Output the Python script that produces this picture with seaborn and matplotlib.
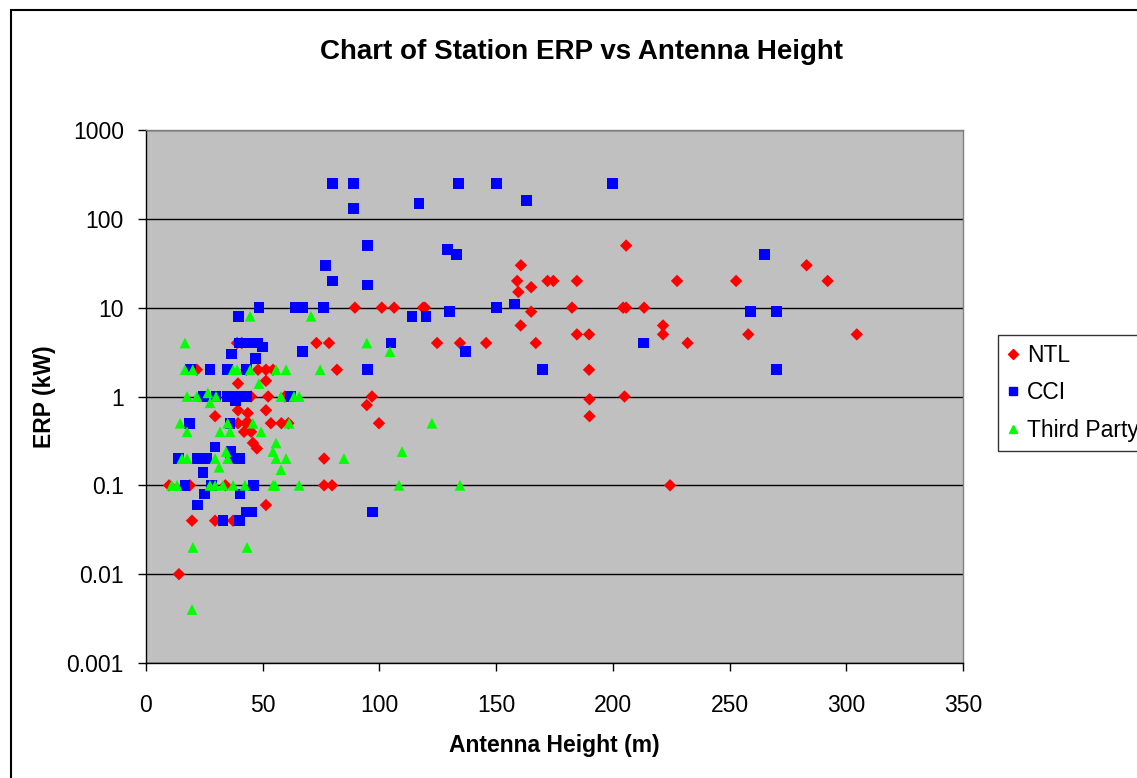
import pandas as pd
import matplotlib
matplotlib.use("Agg")
import matplotlib.pyplot as plt
import seaborn as sns
from matplotlib.patches import Rectangle
from matplotlib.ticker import FixedLocator, FixedFormatter, NullLocator

# NTL stations: antenna height (m) and ERP (kW)
ntl_height = [205.7, 283, 160.6, 159, 172, 174.5, 184.6, 227.5, 252.8, 292, 159.5, 165,
              182.5, 204.4, 205.7, 213.4, 165, 160.5, 221.5, 184.6, 189.8, 221.5, 258, 304.5,
              167, 232, 189.8, 190, 205, 190, 224.5,
              89.5, 101, 106.3, 118.7, 119.5, 73, 78.4, 124.7, 134.5, 145.7, 81.8, 96.8,
              94.6, 99.8, 76.3, 76.3, 79.7, 58, 61, 59.5,
              39, 41, 21.8, 43, 48, 51.4, 54.4, 39.4, 51.4, 45, 52.3, 39.4, 43.6, 51.4, 29.6,
              39.4, 42.8, 44, 53.5, 42, 45, 45.8, 47.5, 9.9, 18.8, 34, 51.4, 19.7, 29.6, 37.3,
              14.1]
ntl_erp = [50, 30, 30, 20, 20, 20, 20, 20, 20, 20, 15, 17,
           10, 10, 10, 10, 9, 6.3, 6.3, 5, 5, 5, 5, 5,
           4, 4, 2, 0.93, 1, 0.6, 0.1,
           10, 10, 10, 10, 10, 4, 4, 4, 4, 4, 2, 1,
           0.8, 0.5, 0.2, 0.1, 0.1, 0.5, 0.5, 1,
           4, 4, 2, 2, 2, 2, 2, 1.4, 1.5, 1, 1, 0.7, 0.65, 0.7, 0.6,
           0.5, 0.5, 0.5, 0.5, 0.4, 0.4, 0.3, 0.26, 0.1, 0.1, 0.1, 0.06, 0.04, 0.04, 0.04,
           0.01]

# CCI stations
cci_height = [80, 89, 134, 150, 200, 89, 117, 163, 95, 129, 133, 265, 77, 80, 95, 158,
              150, 105, 114, 120, 130, 259, 270, 213, 137, 67, 64, 67, 76, 48.4, 39.5,
              170, 270, 95, 97,
              40, 42, 44, 46, 48, 50, 36.5, 47, 19, 27.4, 35, 43, 24.5, 30, 34.7, 39, 41.5,
              43, 62, 38.5, 18.6, 36, 29.6, 36.4, 14, 22, 26, 36, 40, 24.4, 16.7, 28, 46,
              25, 40.3, 22, 43, 45.4, 33, 40]
cci_erp = [250, 250, 250, 250, 250, 130, 150, 160, 50, 45, 40, 40, 30, 20, 18, 11,
           10, 4, 8, 8, 9, 9, 9, 4, 3.2, 3.2, 10, 10, 10, 10, 8,
           2, 2, 2, 0.05,
           4, 4, 4, 4, 4, 3.6, 3, 2.7, 2, 2, 2, 2, 1, 1, 1, 1, 1,
           1, 1, 0.9, 0.5, 0.5, 0.27, 0.24, 0.2, 0.2, 0.2, 0.2, 0.2, 0.14, 0.1, 0.1, 0.1,
           0.08, 0.08, 0.06, 0.05, 0.05, 0.04, 0.04]

# Third party stations
tp_height = [16.7, 44.6, 70.7, 74.6, 16.7, 20, 37.3, 39, 44.6, 55.7, 60, 48.4, 17.6, 21.8,
             30, 57.8, 63.4, 65.6, 26.5, 27.4, 14.6, 35, 45.8, 61.3, 17.6, 31.7, 36, 49.3,
             55.7, 34.3, 54.4, 15.4, 17.6, 29.6, 35, 55.7, 60, 31.3, 57.8, 11, 13.3, 27.4,
             29.6, 33, 37.3, 42.4, 54.4, 55.3, 65.6, 20.1, 43.3, 19.7, 122.5, 84.8, 109.7,
             108.4, 134.5, 104.5, 94.6]
tp_erp = [4, 8, 8, 2, 2, 2, 2, 2, 2, 2, 2, 1.4, 1, 1,
          1, 1, 1, 1, 1.1, 0.85, 0.5, 0.5, 0.5, 0.5, 0.4, 0.4, 0.4, 0.4,
          0.3, 0.24, 0.24, 0.2, 0.2, 0.2, 0.2, 0.2, 0.2, 0.16, 0.15, 0.1, 0.1, 0.1,
          0.1, 0.1, 0.1, 0.1, 0.1, 0.1, 0.1, 0.02, 0.02, 0.004, 0.5, 0.2, 0.24,
          0.1, 0.1, 3.2, 4]

y_ticks = [0.001, 0.01, 0.1, 1, 10, 100, 1000]
y_tick_labels = ["0.001", "0.01", "0.1", "1", "10", "100", "1000"]
x_ticks = [0, 50, 100, 150, 200, 250, 300, 350]

df = pd.concat([
    pd.DataFrame({"height": ntl_height, "erp": ntl_erp, "series": "NTL"}),
    pd.DataFrame({"height": cci_height, "erp": cci_erp, "series": "CCI"}),
    pd.DataFrame({"height": tp_height, "erp": tp_erp, "series": "Third Party"}),
], ignore_index=True)

sns.set_style("white")
plt.rcParams["font.family"] = ["Liberation Sans", "DejaVu Sans"]
plt.rcParams["text.color"] = "black"
plt.rcParams["axes.labelcolor"] = "black"
plt.rcParams["xtick.color"] = "black"
plt.rcParams["ytick.color"] = "black"

fig = plt.figure(figsize=(11.37, 7.78), dpi=100)
ax = fig.add_axes([146 / 1137, 115 / 778, 817 / 1137, 533 / 778])
ax.set_facecolor("#C0C0C0")

colors = {"NTL": "#FF0000", "CCI": "#0000FF", "Third Party": "#00FF00"}
markers = {"NTL": "D", "CCI": "s", "Third Party": "^"}
sizes = {"NTL": 40, "CCI": 60, "Third Party": 60}

sns.scatterplot(data=df, x="height", y="erp", hue="series", style="series",
                size="series", sizes=sizes, palette=colors, markers=markers,
                linewidth=0, ax=ax, legend=False, zorder=3)

ax.set_yscale("log")
ax.set_ylim(0.001, 1000)
ax.set_xlim(0, 350)
ax.yaxis.set_major_locator(FixedLocator(y_ticks))
ax.yaxis.set_major_formatter(FixedFormatter(y_tick_labels))
ax.yaxis.set_minor_locator(NullLocator())
ax.set_xticks(x_ticks)
ax.set_xticklabels([str(v) for v in x_ticks])

# black horizontal gridlines at each decade
for v in y_ticks:
    ax.axhline(v, color="black", lw=1.0, zorder=1)

for s in ax.spines.values():
    s.set_color("#808080")
    s.set_linewidth(1.0)
ax.spines["left"].set_color("black")
ax.spines["bottom"].set_color("black")

ax.tick_params(axis="both", direction="out", length=6, width=1, color="black",
               labelsize=16.5, labelcolor="black")
ax.tick_params(axis="x", pad=16, bottom=True)
ax.tick_params(axis="y", pad=10, left=True)

ax.set_xlabel("Antenna Height (m)", fontsize=16.5, fontweight="bold", color="black")
ax.set_ylabel("ERP (kW)", fontsize=16.5, fontweight="bold", color="black")
ax.xaxis.set_label_coords(0.5, -0.154)
ax.yaxis.set_label_coords(-0.124, 0.5)
ax.xaxis.label.set_va("center")
ax.yaxis.label.set_va("center")

fig.text(581 / 1137, 1 - 52 / 778, "Chart of Station ERP vs Antenna Height",
         fontsize=20, fontweight="bold", ha="center", va="center", color="black")

handles = [plt.Line2D([], [], marker=markers[k], color=colors[k], linestyle="none",
                      markersize=6 if k != "NTL" else 5.5) for k in colors]
leg = fig.legend(handles, list(colors.keys()), loc="upper left",
                 bbox_to_anchor=(998 / 1137, 1 - 335 / 778), frameon=True,
                 fancybox=False, edgecolor="black", fontsize=16.5,
                 handlelength=0.5, handletextpad=0.35, borderpad=0.4,
                 labelspacing=0.62, borderaxespad=0)
leg.get_frame().set_linewidth(1.0)
for t in leg.get_texts():
    t.set_color("black")

# outer chart border
fig.add_artist(Rectangle((11 / 1137, -0.05), 1.2, 1 - 10 / 778 + 0.05,
                         transform=fig.transFigure, fill=False,
                         edgecolor="black", linewidth=1.5))

fig.savefig("out.png", dpi=100)
